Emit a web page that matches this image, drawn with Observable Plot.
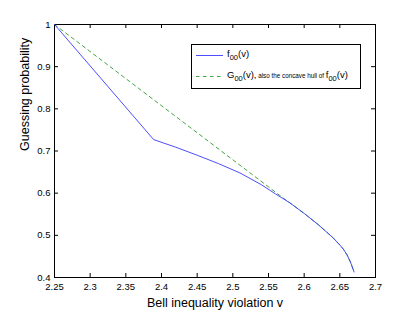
<!DOCTYPE html>
<html>
<head>
<meta charset="utf-8">
<script src="https://cdn.jsdelivr.net/npm/d3@7"></script>
<script src="https://cdn.jsdelivr.net/npm/@observablehq/plot@0.6"></script>
<style>
  html, body { margin: 0; padding: 0; background: #fff; }
  #chart { width: 415px; height: 313px; }
</style>
</head>
<body>
<div id="chart"></div>
<script>
// f00(v): blue solid curve
const fV = [2.25, 2.389, 2.42, 2.45, 2.48, 2.51, 2.54, 2.56, 2.58, 2.60, 2.62, 2.64, 2.65, 2.655, 2.66, 2.665, 2.67];
const fP = [1.0, 0.727, 0.709, 0.690, 0.670, 0.648, 0.620, 0.598, 0.577, 0.552, 0.525, 0.495, 0.477, 0.467, 0.454, 0.436, 0.413];
// G00(v): green dashed concave hull
const gV = [2.25, 2.578, 2.58, 2.60, 2.62, 2.64, 2.65, 2.655, 2.66, 2.665, 2.67];
const gP = [1.0, 0.579, 0.577, 0.552, 0.525, 0.495, 0.477, 0.467, 0.454, 0.436, 0.413];

const xTicks = [2.25, 2.3, 2.35, 2.4, 2.45, 2.5, 2.55, 2.6, 2.65, 2.7];
const yTicks = [0.4, 0.5, 0.6, 0.7, 0.8, 0.9, 1];
const xLabel = "Bell inequality violation v";
const yLabel = "Guessing probability";

const fData = fV.map((v, i) => ({v, p: fP[i]}));
const gData = gV.map((v, i) => ({v, p: gP[i]}));

const W = 415, H = 313, ML = 54, MR = 40, MT = 24, MB = 36;
const PW = W - ML - MR, PH = H - MT - MB, TL = 4;
const fmt = d => String(+d.toFixed(2));
const font = "'Liberation Sans', Arial, Helvetica, sans-serif";
const BLUE = "#3a3aff", GREEN = "#2e9a2e";

const chart = Plot.plot({
  width: W,
  height: H,
  marginLeft: ML,
  marginRight: MR,
  marginTop: MT,
  marginBottom: MB,
  style: {fontFamily: font, fontSize: "9.5px", color: "#000", background: "#fff"},
  x: {domain: [2.25, 2.7]},
  y: {domain: [0.4, 1]},
  marks: [
    Plot.axisX({anchor: "bottom", ticks: xTicks, tickFormat: fmt, tickSize: 0, tickPadding: 6, label: null, fill: "#000"}),
    Plot.axisY({anchor: "left", ticks: yTicks, tickFormat: fmt, tickSize: 0, tickPadding: 4, label: null, fill: "#000"}),
    // inward ticks on all four sides
    Plot.ruleX(xTicks, {x: d => d, insetTop: PH - TL, stroke: "#000"}),
    Plot.ruleX(xTicks, {x: d => d, insetBottom: PH - TL, stroke: "#000"}),
    Plot.ruleY(yTicks, {y: d => d, insetRight: PW - TL, stroke: "#000"}),
    Plot.ruleY(yTicks, {y: d => d, insetLeft: PW - TL, stroke: "#000"}),
    Plot.frame({stroke: "#000", strokeWidth: 1}),
    Plot.text([xLabel], {frameAnchor: "bottom", dy: 29, fontSize: 12.5, fill: "#000", fontFamily: font}),
    Plot.text([yLabel], {frameAnchor: "left", dx: -30, rotate: -90, fontSize: 12.5, fill: "#000", fontFamily: font}),
    Plot.line(gData, {x: "v", y: "p", stroke: GREEN, strokeWidth: 0.9, strokeDasharray: "3.5,3.5"}),
    Plot.line(fData, {x: "v", y: "p", stroke: BLUE, strokeWidth: 0.9})
  ]
});
document.getElementById("chart").appendChild(chart);

// Legend box
const svg = d3.select(chart);
const lg = svg.append("g").attr("font-family", font).attr("fill", "#000").attr("text-anchor", "start");
lg.append("rect").attr("x", 191.5).attr("y", 44.5).attr("width", 169).attr("height", 44)
  .attr("fill", "#fff").attr("stroke", "#000").attr("stroke-width", 1);
lg.append("line").attr("x1", 196).attr("x2", 223).attr("y1", 55.5).attr("y2", 55.5)
  .attr("stroke", BLUE).attr("stroke-width", 0.9).attr("fill", "none");
lg.append("line").attr("x1", 196).attr("x2", 223).attr("y1", 76.5).attr("y2", 76.5)
  .attr("stroke", GREEN).attr("stroke-width", 0.9).attr("stroke-dasharray", "3.5,3.5").attr("fill", "none");
const t1 = lg.append("text").attr("x", 227).attr("y", 57).attr("font-size", 9.5).attr("text-anchor", "start");
t1.append("tspan").text("f");
t1.append("tspan").attr("dy", 2.5).attr("font-size", 7.5).text("00");
t1.append("tspan").attr("dy", -2.5).text("(v)");
const t2 = lg.append("text").attr("x", 227).attr("y", 78).attr("font-size", 9.5).attr("text-anchor", "start");
t2.append("tspan").text("G");
t2.append("tspan").attr("dy", 2.5).attr("font-size", 7.5).text("00");
t2.append("tspan").attr("dy", -2.5).text("(v),");
t2.append("tspan").attr("font-size", 6.3).text(" also the concave hull of ");
t2.append("tspan").text("f");
t2.append("tspan").attr("dy", 2.5).attr("font-size", 7.5).text("00");
t2.append("tspan").attr("dy", -2.5).text("(v)");
</script>
</body>
</html>
